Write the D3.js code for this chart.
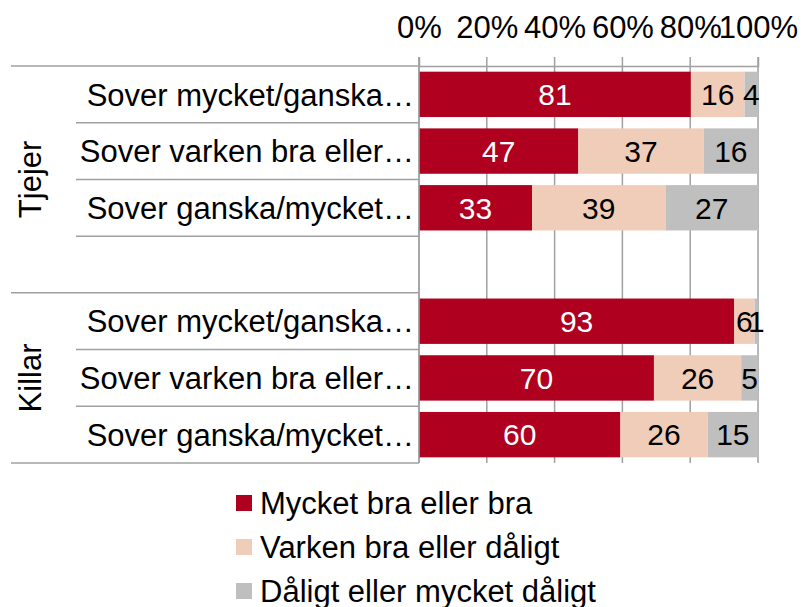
<!DOCTYPE html>
<html>
<head>
<meta charset="utf-8">
<script src="https://cdn.jsdelivr.net/npm/d3@7"></script>
<style>
  body { margin: 0; background: #fff; }
  text { font-family: "Liberation Sans", Arial, sans-serif; }
</style>
</head>
<body>
<script>
// Data
var groups = ["Tjejer", "Killar"];
var rowIds = ["t1", "t2", "t3", "blank", "k1", "k2", "k3"];
var rowGroups = ["Tjejer", "Tjejer", "Tjejer", "Tjejer", "Killar", "Killar", "Killar"];
var rowLabels = ["Sover mycket/ganska…", "Sover varken bra eller…", "Sover ganska/mycket…", "",
                 "Sover mycket/ganska…", "Sover varken bra eller…", "Sover ganska/mycket…"];
var seriesNames = ["Mycket bra eller bra", "Varken bra eller dåligt", "Dåligt eller mycket dåligt"];
var seriesBra     = [81, 47, 33, null, 93, 70, 60];
var seriesVarken  = [16, 37, 39, null, 6, 26, 26];
var seriesDaligt  = [4, 16, 27, null, 1, 5, 15];
var tickValues = [0, 0.2, 0.4, 0.6, 0.8, 1];

var colors = ["#B0001F", "#F0CDB9", "#BFBFBF"];
var labelColors = ["#fff", "#000", "#000"];

var width = 802, height = 607;
// plot area edges (note: "top" is reserved on window, so use plot* names)
var plotLeft = 419, plotRight = 758, plotTop = 66, plotBottom = 463;

var svg = d3.select("body").append("svg")
    .attr("width", width)
    .attr("height", height);

var x = d3.scaleLinear().domain([0, 1]).range([plotLeft, plotRight]);
var y = d3.scaleBand().domain(rowIds).range([plotTop, plotBottom])
    .paddingInner(0.2).paddingOuter(0.1);

// gridlines
svg.append("g").selectAll("line")
    .data(tickValues)
    .enter().append("line")
    .attr("x1", d => x(d)).attr("x2", d => x(d))
    .attr("y1", plotTop - 9).attr("y2", plotBottom)
    .attr("stroke", "#A0A0A0")
    .attr("stroke-width", 1.5);

// top axis labels
var xAxis = d3.axisTop(x).tickValues(tickValues)
    .tickFormat(d3.format(".0%"))
    .tickSize(9).tickPadding(19);
var ax = svg.append("g").attr("transform", "translate(0," + plotTop + ")").call(xAxis);
ax.select(".domain").attr("stroke", "#A0A0A0").attr("stroke-width", 1.5);
ax.selectAll(".tick line").remove();
ax.selectAll(".tick text")
    .attr("font-size", 31)
    .attr("font-family", "Liberation Sans, Arial, sans-serif")
    .attr("fill", "#000");

// category separator lines
var step = y.step();
var sepY = d3.range(rowIds.length + 1).map(i => plotTop + i * step);
svg.append("g").selectAll("line")
    .data(sepY)
    .enter().append("line")
    .attr("x1", (d, i) => {
        var isGroupEdge = i === 0 || i === rowIds.length || rowGroups[i] !== rowGroups[i - 1];
        return isGroupEdge ? 11 : 76;
    })
    .attr("x2", plotLeft)
    .attr("y1", d => d).attr("y2", d => d)
    .attr("stroke", "#A0A0A0")
    .attr("stroke-width", 1.5);

// stacked, normalised bars
var rows = rowIds.map((id, i) => ({
    id: id,
    values: [seriesBra[i], seriesVarken[i], seriesDaligt[i]]
})).filter(r => r.values[0] !== null);

rows.forEach(function(r) {
    var total = d3.sum(r.values);
    var acc = 0;
    r.values.forEach(function(v, k) {
        var x0 = acc / total, x1 = (acc + v) / total;
        acc += v;
        svg.append("rect")
            .attr("x", x(x0))
            .attr("y", y(r.id))
            .attr("width", x(x1) - x(x0))
            .attr("height", y.bandwidth())
            .attr("fill", colors[k]);
        svg.append("text")
            .attr("x", (x(x0) + x(x1)) / 2)
            .attr("y", y(r.id) + y.bandwidth() / 2)
            .attr("dy", "0.36em")
            .attr("text-anchor", "middle")
            .attr("font-size", 30)
            .attr("fill", labelColors[k])
            .text(v);
    });
});

// left axis line
svg.append("line")
    .attr("x1", plotLeft).attr("x2", plotLeft)
    .attr("y1", plotTop - 9).attr("y2", plotBottom)
    .attr("stroke", "#A0A0A0")
    .attr("stroke-width", 1.5);

// category labels
svg.append("g").selectAll("text")
    .data(rowIds)
    .enter().append("text")
    .attr("x", 414)
    .attr("y", d => y(d) + y.bandwidth() / 2)
    .attr("dy", "0.36em")
    .attr("text-anchor", "end")
    .attr("font-size", 31)
    .attr("fill", "#000")
    .text((d, i) => rowLabels[i]);

// group labels (rotated)
groups.forEach(function(g) {
    var ids = rowIds.filter((d, i) => rowGroups[i] === g);
    var y0 = plotTop + rowIds.indexOf(ids[0]) * step;
    var y1 = plotTop + (rowIds.indexOf(ids[ids.length - 1]) + 1) * step;
    var cy = (y0 + y1) / 2;
    svg.append("text")
        .attr("transform", "translate(30," + cy + ") rotate(-90)")
        .attr("dy", "0.36em")
        .attr("text-anchor", "middle")
        .attr("font-size", 31)
        .attr("fill", "#000")
        .text(g);
});

// legend
var legend = svg.append("g").selectAll("g")
    .data(seriesNames)
    .enter().append("g")
    .attr("transform", (d, i) => "translate(236," + (503 + i * 44) + ")");
legend.append("rect")
    .attr("x", 0).attr("y", -8)
    .attr("width", 16).attr("height", 16)
    .attr("fill", (d, i) => colors[i]);
legend.append("text")
    .attr("x", 24)
    .attr("dy", "0.36em")
    .attr("font-size", 31)
    .attr("fill", "#000")
    .text(d => d);
</script>
</body>
</html>
